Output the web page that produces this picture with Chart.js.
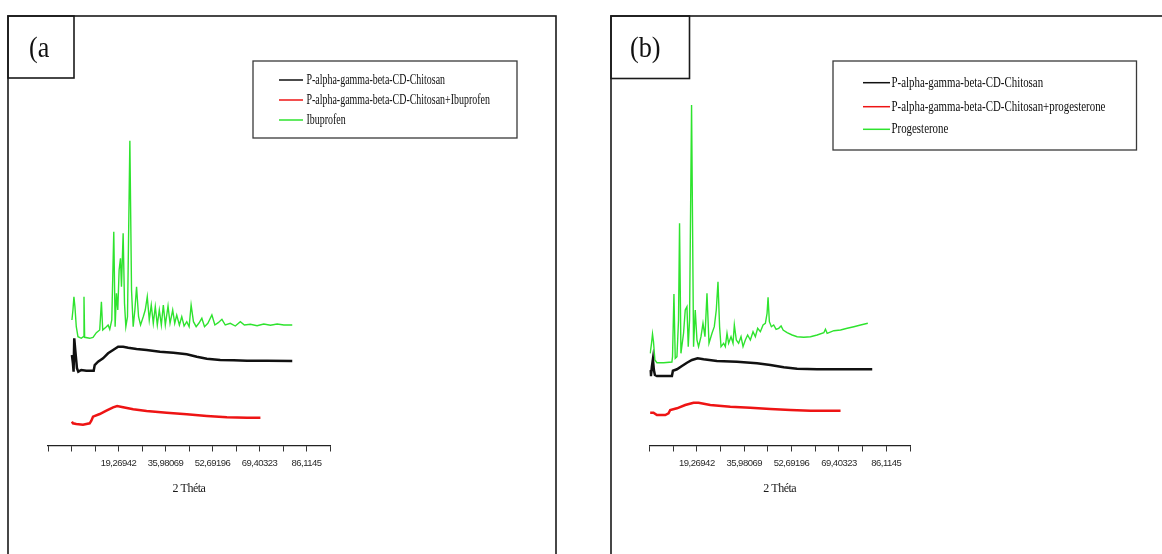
<!DOCTYPE html>
<html>
<head>
<meta charset="utf-8">
<script src="https://cdn.jsdelivr.net/npm/chart.js@4.4.0/dist/chart.umd.min.js"></script>
<style>
  html, body { margin: 0; padding: 0; background: #fff; }
  #wrap { position: relative; width: 1162px; height: 554px; overflow: hidden; background: #fff; }
  .panel { position: absolute; top: 0; width: 581px; height: 554px; }
</style>
</head>
<body>
<div id="wrap">
  <div class="panel" style="left:0"><canvas id="panelA" width="581" height="554"></canvas></div>
  <div class="panel" style="left:581px"><canvas id="panelB" width="581" height="554"></canvas></div>
</div>
<script>
// ---- 2θ axis ticks ----
const TICK_STEP = 8.355635;
const LABELED_TICKS = [19.26942, 35.98069, 52.69196, 69.40323, 86.1145];
const TICK_TEXT = ['19,26942', '35,98069', '52,69196', '69,40323', '86,1145'];
const AXIS_START_A = -5.797485;
const AXIS_START_B = 2.55815;
const AXIS_END = 94.470135;

// ---- series names ----
const LABELS_A = ['P-alpha-gamma-beta-CD-Chitosan', 'P-alpha-gamma-beta-CD-Chitosan+Ibuprofen', 'Ibuprofen'];
const LABELS_B = ['P-alpha-gamma-beta-CD-Chitosan', 'P-alpha-gamma-beta-CD-Chitosan+progesterone', 'Progesterone'];
const SERIES_COLORS = ['#111111', '#ee1414', '#2ee32e'];

// ---- (a) diffractograms: [2θ, intensity (a.u.)] ----
const CHITOSAN_A = [[2.71,910],[3.07,827],[3.30,743],[3.54,1077],[3.90,960],[4.50,777],[4.97,743],[6.04,760],[7.83,753],[10.45,753],[10.81,810],[12.00,843],[13.78,877],[15.57,927],[17.35,960],[19.14,993],[20.92,993],[22.71,983],[25.69,970],[29.26,960],[34.02,943],[38.78,933],[43.54,917],[47.11,893],[50.68,873],[55.44,860],[60.21,857],[64.97,853],[72.11,853],[81.05,850]];
const LOADED_IBU = [[2.71,243],[3.07,227],[4.26,220],[6.64,213],[9.02,227],[9.61,253],[10.21,293],[12.59,320],[14.97,353],[17.35,387],[18.78,400],[20.92,387],[24.49,367],[29.26,350],[36.40,333],[43.54,317],[50.68,300],[57.82,287],[64.97,283],[69.73,283]];
const IBUPROFEN = [[2.71,1260],[3.07,1360],[3.42,1493],[3.78,1393],[4.26,1193],[4.85,1093],[6.04,1077],[6.76,1093],[7.00,1493],[7.23,1087],[9.02,1077],[10.21,1087],[11.40,1133],[12.59,1160],[13.19,1443],[13.66,1160],[14.97,1193],[15.57,1210],[16.16,1167],[16.88,1260],[17.59,2143],[18.07,1193],[18.54,1527],[19.02,1360],[19.49,1760],[19.97,1877],[20.33,1593],[20.92,2127],[21.40,1427],[21.88,1193],[22.47,1293],[23.31,3053],[23.90,1560],[24.49,1193],[25.09,1360],[25.69,1593],[26.40,1293],[27.11,1210],[28.07,1293],[28.78,1360],[29.50,1493],[30.21,1260],[30.92,1410],[31.64,1227],[32.35,1393],[33.07,1210],[33.78,1360],[34.50,1210],[35.21,1410],[35.92,1210],[36.88,1400],[37.59,1227],[38.54,1360],[39.26,1227],[39.97,1310],[40.92,1210],[41.76,1293],[42.59,1200],[43.54,1243],[44.38,1193],[45.09,1410],[45.92,1243],[46.88,1193],[47.83,1227],[48.90,1277],[49.85,1193],[51.04,1227],[52.47,1310],[53.54,1210],[54.73,1233],[56.04,1267],[57.23,1210],[59.02,1227],[60.80,1200],[62.59,1243],[64.02,1210],[66.16,1217],[68.54,1203],[70.92,1220],[73.30,1207],[75.68,1220],[78.07,1210],[81.05,1210]];

// ---- (b) diffractograms: [2θ, intensity (a.u.)] ----
const CHITOSAN_B = [[2.80,760],[3.05,700],[3.40,793],[3.76,867],[4.11,760],[4.46,710],[5.17,700],[7.53,700],[10.47,700],[10.82,753],[12.24,767],[14.00,800],[15.77,833],[17.54,860],[19.52,877],[21.64,867],[26.36,850],[33.42,843],[40.49,827],[45.20,810],[49.91,787],[54.64,773],[61.71,767],[71.14,767],[81.14,767]];
const LOADED_PROG = [[2.80,333],[3.97,333],[5.17,310],[8.11,310],[9.27,327],[9.87,360],[12.24,377],[15.17,410],[18.10,433],[19.87,433],[24.00,410],[31.07,393],[38.14,383],[45.20,370],[52.27,360],[59.36,353],[69.96,353]];
const PROGESTERONE = [[2.80,927],[3.27,1027],[3.62,1120],[3.97,1043],[4.46,860],[5.17,833],[7.53,833],[10.47,840],[10.68,893],[11.18,1520],[11.64,877],[12.24,893],[12.80,1260],[13.16,2227],[13.65,927],[14.57,1127],[15.17,1360],[15.77,1393],[16.23,993],[16.69,1260],[17.40,3410],[18.10,993],[18.70,1360],[19.30,1060],[19.87,993],[20.72,1093],[21.43,1227],[22.13,1093],[22.84,1527],[23.55,1027],[24.61,1127],[25.42,1193],[26.12,1360],[26.72,1643],[27.29,1193],[27.79,993],[28.72,1027],[29.31,993],[29.91,1127],[30.47,1027],[31.32,1093],[32.03,1027],[32.49,1210],[33.19,1060],[34.00,1027],[34.85,1093],[35.56,993],[36.37,1060],[37.19,1110],[38.14,1060],[39.09,1143],[39.91,1093],[40.72,1177],[41.67,1143],[42.63,1210],[43.44,1227],[44.04,1327],[44.39,1487],[44.85,1243],[45.56,1193],[46.37,1210],[47.22,1167],[48.14,1177],[48.99,1200],[49.70,1160],[51.11,1133],[52.88,1110],[54.64,1093],[57.00,1087],[59.36,1093],[61.71,1110],[64.07,1133],[64.64,1167],[65.24,1127],[67.60,1153],[69.96,1160],[72.31,1177],[74.67,1193],[77.03,1210],[79.59,1227]];

const INTENSITY_MAX = 4300;

function tickValues(start) {
  const out = [];
  const n = Math.round((AXIS_END - start) / TICK_STEP);
  for (let i = 0; i <= n; i++) out.push(start + i * TICK_STEP);
  return out;
}

function tickText(v) {
  const i = LABELED_TICKS.findIndex(t => Math.abs(t - v) < 1e-3);
  return i >= 0 ? TICK_TEXT[i] : '';
}

// Draws the panel frame, the letter tag and the boxed legend;
// tightens the letter spacing used by the axis text.
const panelFrame = {
  id: 'panelFrame',
  beforeDraw(chart) {
    chart.ctx.letterSpacing = '-0.5px';
  },
  afterDraw(chart, args, o) {
    const ctx = chart.ctx;
    ctx.letterSpacing = '0px';
    ctx.save();
    ctx.strokeStyle = '#1a1a1a';
    ctx.lineWidth = 1.6;
    const f = o.frame;
    ctx.strokeRect(f.left, f.top, f.right - f.left, f.bottom - f.top);
    const t = o.tag;
    ctx.strokeRect(f.left, f.top, t.right - f.left, t.bottom - f.top);
    ctx.fillStyle = '#111';
    ctx.font = '30px "Liberation Serif", "Times New Roman", serif';
    ctx.textBaseline = 'alphabetic';
    ctx.translate(t.x, t.y);
    ctx.scale(t.squeeze, 1);
    ctx.fillText(t.text, 0, 0);
    ctx.restore();

    const L = o.legend;
    ctx.save();
    ctx.strokeStyle = '#3a3a3a';
    ctx.lineWidth = 1.3;
    ctx.strokeRect(L.left, L.top, L.right - L.left, L.bottom - L.top);
    chart.data.datasets.forEach((ds, i) => {
      const y = L.rows[i];
      ctx.strokeStyle = ds.borderColor;
      ctx.lineWidth = 1.5;
      ctx.beginPath();
      ctx.moveTo(L.lineX0, y);
      ctx.lineTo(L.lineX1, y);
      ctx.stroke();
      ctx.save();
      ctx.fillStyle = '#0c0c0c';
      ctx.font = L.fontSize + 'px "Liberation Serif", "Times New Roman", serif';
      ctx.textBaseline = 'middle';
      ctx.translate(L.textX, y);
      ctx.scale(L.squeeze, 1);
      ctx.fillText(ds.label, 0, 0);
      ctx.restore();
    });
    ctx.restore();
  }
};

function makePanel(id, series, labels, axisStart, pad, frameOpts) {
  const ticks = tickValues(axisStart);
  const widths = [2.5, 2.5, 1.4];
  return new Chart(document.getElementById(id), {
    type: 'line',
    data: {
      datasets: series.map((s, i) => ({
        label: labels[i],
        data: s.map(([x, y]) => ({ x, y })),
        borderColor: SERIES_COLORS[i],
        borderWidth: widths[i],
        pointRadius: 0,
        fill: false,
        tension: 0
      }))
    },
    options: {
      responsive: false,
      animation: false,
      events: [],
      layout: { padding: pad },
      plugins: {
        legend: { display: false },
        tooltip: { enabled: false },
        panelFrame: frameOpts
      },
      scales: {
        x: {
          type: 'linear',
          min: ticks[0],
          max: ticks[ticks.length - 1],
          afterBuildTicks: s => { s.ticks = ticks.map(v => ({ value: v })); },
          afterFit: s => { s.height = 54; },
          ticks: {
            autoSkip: false,
            maxRotation: 0,
            padding: 6,
            color: '#2a2a2a',
            font: { family: '"Liberation Sans", Arial, sans-serif', size: 9.5 },
            callback: v => tickText(v)
          },
          grid: { drawOnChartArea: false, drawTicks: true, tickLength: 5.5, color: '#333', tickColor: '#333', lineWidth: 1 },
          border: { display: true, color: '#222', width: 1.2 },
          title: {
            display: true,
            text: '2 Théta',
            color: '#1a1a1a',
            font: { family: '"Liberation Serif", "Times New Roman", serif', size: 12 },
            padding: { top: 0, bottom: 4 }
          }
        },
        y: { display: false, min: 0, max: INTENSITY_MAX }
      }
    },
    plugins: [panelFrame]
  });
}

makePanel('panelA', [CHITOSAN_A, LOADED_IBU, IBUPROFEN], LABELS_A, AXIS_START_A,
  { left: 48, right: 251, top: 16, bottom: 54 },
  {
    frame: { left: 8, top: 16, right: 556, bottom: 600 },
    tag: { right: 74, bottom: 78, x: 29, y: 57, squeeze: 0.87, text: '(a' },
    legend: { left: 253, top: 61, right: 517, bottom: 138, rows: [80, 100, 120],
              lineX0: 279, lineX1: 303, textX: 306.5, fontSize: 14, squeeze: 0.71 }
  });

makePanel('panelB', [CHITOSAN_B, LOADED_PROG, PROGESTERONE], LABELS_B, AXIS_START_B,
  { left: 68.5, right: 252, top: 16, bottom: 54 },
  {
    frame: { left: 30, top: 16, right: 590, bottom: 600 },
    tag: { right: 108.5, bottom: 78.5, x: 49, y: 57, squeeze: 0.875, text: '(b)' },
    legend: { left: 252, top: 61, right: 555.5, bottom: 150, rows: [82.7, 106.7, 129.3],
              lineX0: 282, lineX1: 309, textX: 310.5, fontSize: 15, squeeze: 0.725 }
  });
</script>
</body>
</html>
